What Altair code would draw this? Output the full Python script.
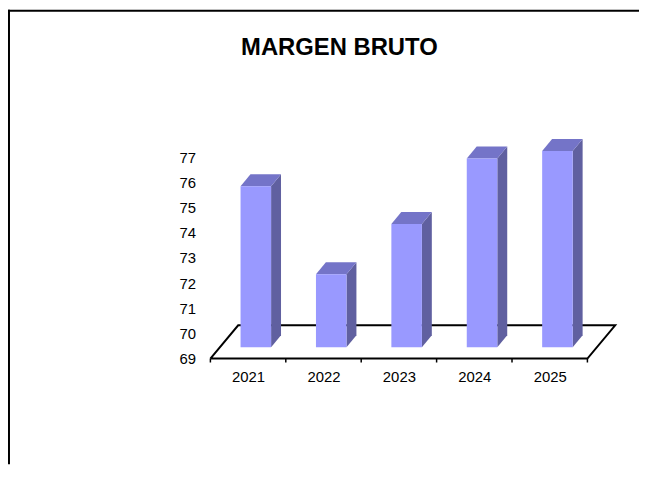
import altair as alt
import pandas as pd

# ---- data ----
years = ["2021", "2022", "2023", "2024", "2025"]
values = [75.4, 71.9, 73.9, 76.5, 76.8]
y_ticks = [69, 70, 71, 72, 73, 74, 75, 76, 77]
title_text = "MARGEN BRUTO"

# ---- layout (pixels of the canvas, which is the whole plot area) ----
W, H = 636, 458
X0_PX, PX_X = 204.0, 76.0      # canvas x of category edge 0, px per category
Y0_PX, PX_Y = 351.5, 25.35     # canvas y of value 69, px per unit
YBASE = 69
XMIN = -X0_PX / PX_X
XMAX = (W - X0_PX) / PX_X
YMAX = YBASE + Y0_PX / PX_Y
YMIN = YBASE - (H - Y0_PX) / PX_Y

# 3-D geometry (data units)
FLOOR_DX, FLOOR_DY = 28 / PX_X, 33.5 / PX_Y
BAR_OFF, BAR_W = 0.40, 0.405
DEP_DX, DEP_DY = 10 / PX_X, 12 / PX_Y
BASE = YBASE + 11.5 / PX_Y
TICK_LEN = 4 / PX_Y

FONT = "Liberation Sans"
FRONT, TOP, SIDE = "#9999FF", "#7474C8", "#6060A0"

n = len(years)
bars = pd.DataFrame({
    "year": years,
    "xl": [i + BAR_OFF for i in range(n)],
    "xr": [i + BAR_OFF + BAR_W for i in range(n)],
    "y0": [BASE] * n,
    "y1": [BASE + v - YBASE for v in values],
})

side_rows, top_rows = [], []
for _, r in bars.iterrows():
    side_rows.append({"year": r.year, "x": r.xr, "lo": r.y0, "hi": r.y1})
    side_rows.append({"year": r.year, "x": r.xr + DEP_DX, "lo": r.y0 + DEP_DY, "hi": r.y1 + DEP_DY})
    top_rows.append({"year": r.year, "y": r.y1, "xa": r.xl, "xb": r.xr})
    top_rows.append({"year": r.year, "y": r.y1 + DEP_DY, "xa": r.xl + DEP_DX, "xb": r.xr + DEP_DX})
side = pd.DataFrame(side_rows)
top = pd.DataFrame(top_rows)

floor = pd.DataFrame({
    "x": [0, n, n + FLOOR_DX, FLOOR_DX, 0],
    "y": [YBASE, YBASE, YBASE + FLOOR_DY, YBASE + FLOOR_DY, YBASE],
    "o": [0, 1, 2, 3, 4],
})
ticks = pd.DataFrame({"x": list(range(n + 1)), "y": [YBASE] * (n + 1), "y2": [YBASE - TICK_LEN] * (n + 1)})

xs = alt.Scale(domain=[XMIN, XMAX], nice=False, zero=False)
ys = alt.Scale(domain=[YMIN, YMAX], nice=False, zero=False)

label_expr = "[" + ",".join("'%s'" % y for y in years) + "][floor(datum.value)]"

x_axis = alt.Axis(orient="bottom", offset=-(H - Y0_PX), values=[i + 0.5 for i in range(n)],
                  labelExpr=label_expr, ticks=False, domain=False, grid=False,
                  labelPadding=11, labelFontSize=15, labelFont=FONT, labelColor="black", title=None)
y_axis = alt.Axis(orient="left", offset=-X0_PX, values=y_ticks, ticks=False, domain=False,
                  grid=False, labelPadding=15, labelFontSize=15, labelFont=FONT,
                  labelColor="black", title=None)

floor_l = alt.Chart(floor).mark_line(color="black", strokeWidth=2).encode(
    x=alt.X("x:Q", scale=xs, axis=x_axis),
    y=alt.Y("y:Q", scale=ys, axis=y_axis),
    order="o:Q",
)
tick_l = alt.Chart(ticks).mark_rule(color="black", strokeWidth=1.5).encode(
    x=alt.X("x:Q", scale=xs), y=alt.Y("y:Q", scale=ys), y2="y2:Q")

front_l = alt.Chart(bars).mark_rect(color=FRONT).encode(
    x=alt.X("xl:Q", scale=xs), x2="xr:Q",
    y=alt.Y("y0:Q", scale=ys), y2="y1:Q")
side_l = alt.Chart(side).mark_area(color=SIDE, orient="vertical").encode(
    x=alt.X("x:Q", scale=xs),
    y=alt.Y("lo:Q", scale=ys, stack=None), y2="hi:Q",
    detail="year:N")
top_l = alt.Chart(top).mark_area(color=TOP, orient="horizontal").encode(
    y=alt.Y("y:Q", scale=ys),
    x=alt.X("xa:Q", scale=xs, stack=None), x2="xb:Q",
    detail="year:N")

title_l = alt.Chart(pd.DataFrame({"t": [title_text]})).mark_text(
    font=FONT, fontSize=24, fontWeight="bold", color="black", baseline="middle", align="center"
).encode(text="t:N", x=alt.value(334), y=alt.value(39))

border_left = alt.Chart(pd.DataFrame({"a": [0]})).mark_rule(color="black", strokeWidth=2).encode(
    x=alt.value(1), y=alt.value(0), y2=alt.value(H))
border_top = alt.Chart(pd.DataFrame({"a": [0]})).mark_rule(color="black", strokeWidth=2).encode(
    y=alt.value(1), x=alt.value(0), x2=alt.value(W))

chart = alt.layer(
    floor_l, tick_l, side_l, top_l, front_l, title_l, border_left, border_top
).properties(
    width=W, height=H, padding=0, autosize="none"
).configure_view(stroke=None)

chart.save("out.html", embed_options={"renderer": "svg", "actions": False})
